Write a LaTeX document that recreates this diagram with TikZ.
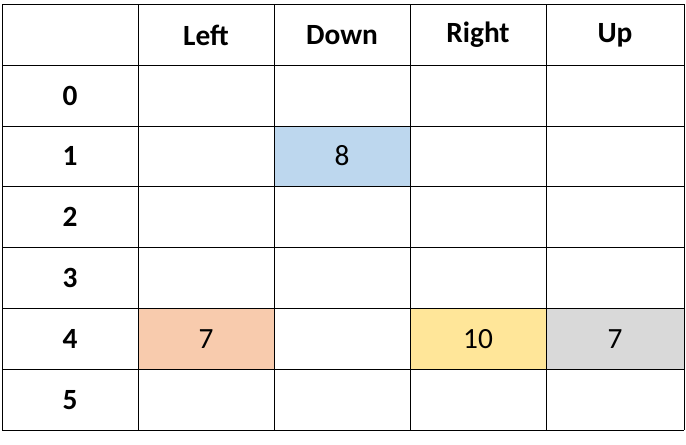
\documentclass[tikz,border=0pt]{standalone}
\usepackage{fontspec}
\setmainfont{Carlito}
\definecolor{cblue}{HTML}{BDD7EE}
\definecolor{corange}{HTML}{F8CBAD}
\definecolor{cyellow}{HTML}{FFE699}
\definecolor{cgray}{HTML}{D9D9D9}
\tikzset{every picture/.style={line width=0.75pt}}
\tikzset{cell/.style={inner sep=0pt,font=\fontsize{22}{26}\selectfont},
  head/.style={cell,font=\fontsize{22}{26}\selectfont\bfseries}}
\begin{document}
\begin{tikzpicture}[x=0.75pt,y=0.75pt,yscale=-1]
	\useasboundingbox (0,0) rectangle (686,444);
	% filled cells
	\fill[cblue] (274,126) rectangle (410,186);
	\fill[corange] (138,308) rectangle (274,369);
	\fill[cyellow] (410,308) rectangle (546,369);
	\fill[cgray] (546,308) rectangle (684,369);
	% grid
	\foreach \x in {2,138,274,410,546,684} \draw (\x,4) -- (\x,430);
	\foreach \y in {4,65,126,186,247,308,369,430} \draw (2,\y) -- (684,\y);
	% header row
	\node[head] (hleft) at (206,35) {Left};
	\node[head] (hdown) at (342,35) {Down};
	\node[head] (hright) at (478,35) {Right};
	\node[head] (hup) at (615,35) {Up};
	% row labels
	\foreach \r/\y in {0/96,1/156,2/217,3/278,4/339,5/400}
		\node[head] (row\r) at (70,\y) {\r};
	% values
	\node[cell] (v1down) at (342,156) {8};
	\node[cell] (v4left) at (206,339) {7};
	\node[cell] (v4right) at (478,339) {10};
	\node[cell] (v4up) at (615,339) {7};
\end{tikzpicture}
\end{document}
